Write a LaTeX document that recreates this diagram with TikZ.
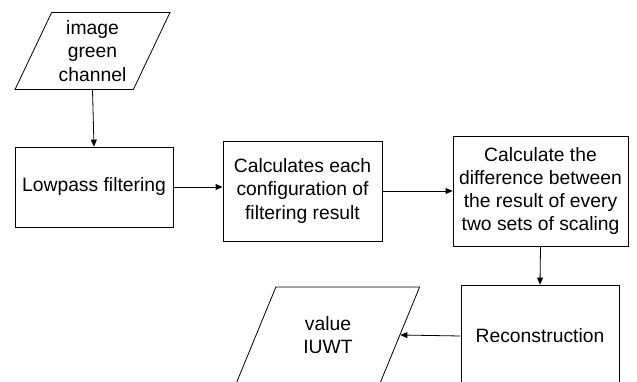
\documentclass[tikz,border=0pt]{standalone}
\usepackage{fontspec}
\setmainfont{Liberation Sans}
\usetikzlibrary{shapes.geometric,arrows.meta}

\begin{document}
\begin{tikzpicture}[x=1pt,y=-1pt,line width=0.8pt,>={Triangle[length=7pt,width=6pt]},
        box/.style={rectangle,draw,inner sep=0pt,align=center,font=\fontsize{19.3}{23.3}\selectfont},
        para/.style={trapezium,trapezium left angle=63.5,trapezium right angle=116.5,
            trapezium stretches=true,draw,inner sep=0pt,align=center,font=\fontsize{19.3}{23.3}\selectfont}]
        \clip (0,0) rectangle (637,382);

        % Eingabe
        \node[para,minimum width=155pt,minimum height=77pt] (green) at (92.5,51) {image\\green\\channel};

        % Verarbeitungsschritte
        \node[box,minimum width=158pt,minimum height=80pt] (lowpass) at (94,187) {Lowpass filtering};
        \node[box,minimum width=159pt,minimum height=100pt] (config) at (302.5,191) {Calculates each\\configuration of\\filtering result};
        \node[box,minimum width=175pt,minimum height=110pt] (diff) at (540.5,191) {Calculate the\\difference between\\the result of every\\two sets of scaling};
        \node[box,minimum width=158pt,minimum height=102pt] (recon) at (540,336) {Reconstruction};

        % Ausgabe
        \node[para,minimum width=184pt,minimum height=96pt] (iuwt) at (328,335) {value\\IUWT};

        % Verbindungen
        \draw[->] (green.south) -- (lowpass.north);
        \draw[->] (lowpass.east) -- (lowpass.east -| config.west);
        \draw[->] (config.east) -- (diff.west);
        \draw[->] (diff.south) -- (recon.north);
        \draw[->] (recon.west) -- (iuwt.east);
\end{tikzpicture}
\end{document}
